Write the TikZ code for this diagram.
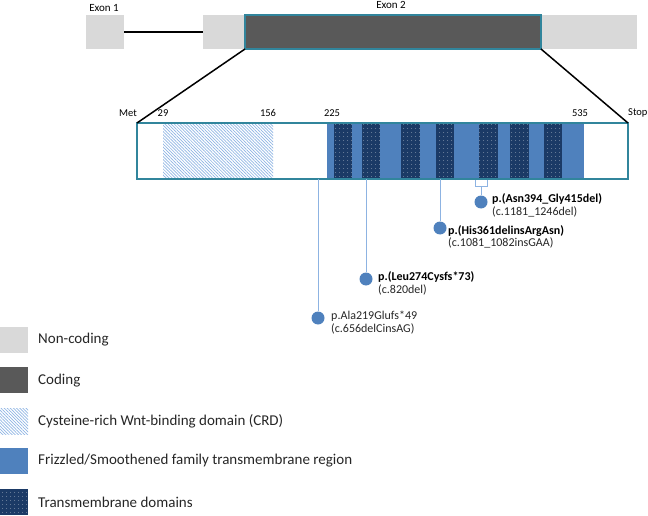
\documentclass[tikz,border=0pt]{standalone}
\usepackage{fontspec}
\setmainfont{Carlito}
\usetikzlibrary{patterns,patterns.meta}
\definecolor{noncod}{HTML}{D9D9D9}
\definecolor{codc}{HTML}{595959}
\definecolor{tealb}{HTML}{31859C}
\definecolor{fzblue}{HTML}{4F81BD}
\definecolor{navy}{HTML}{1B3A66}
\definecolor{hatchc}{HTML}{8EB4E3}
\definecolor{mlinec}{HTML}{8DB3E2}
\definecolor{txtc}{HTML}{262626}
\tikzset{
  box/.style={rectangle, inner sep=0pt, outer sep=0pt, anchor=north west},
  ncbox/.style={box, fill=noncod},
  codbox/.style={box, fill=codc, draw=tealb, line width=1.5pt},
  crdfill/.style={box, fill=white, pattern={Lines[angle=-45, distance=2.2pt, line width=0.7pt]}, pattern color=hatchc},
  fzfill/.style={box, fill=fzblue},
  tmfill/.style={box, fill=navy, postaction={pattern={Dots[distance=4pt, radius=0.45pt]}, pattern color=white!75!navy}},
  mline/.style={draw=mlinec, line width=1pt},
  mdot/.style={circle, fill=fzblue, minimum size=13pt, inner sep=0pt},
  ltxt/.style={anchor=west, text=txtc, font=\fontsize{12}{14}\selectfont},
  btxt/.style={anchor=west, text=black, font=\bfseries\fontsize{12}{14}\selectfont},
  ptxt/.style={text=black, font=\fontsize{10.5}{12}\selectfont, inner sep=0pt},
  legtxt/.style={anchor=west, text=txtc, font=\fontsize{15}{18}\selectfont, inner sep=0pt},
}
\begin{document}
\begin{tikzpicture}[x=1pt,y=-1pt]
\useasboundingbox (0,0) rectangle (648,516);
% gene structure
\node[ncbox, minimum width=38pt, minimum height=34pt] (ex1) at (86,15) {};
\node[ncbox, minimum width=42pt, minimum height=34pt] (ex2l) at (203,15) {};
\node[ncbox, minimum width=96pt, minimum height=34pt] (ex2r) at (541,15) {};
\node[codbox, minimum width=296pt, minimum height=34pt] (cod) at (245,15) {};
\draw[line width=1.5pt] (ex1.east) -- (ex2l.west);
\node[ptxt, font=\fontsize{11}{13}\selectfont] (lex1) at (104,7.5) {Exon 1};
\node[ptxt, font=\fontsize{11}{13}\selectfont] (lex2) at (391,5) {Exon 2};
% protein
\node[crdfill, minimum width=110pt, minimum height=54pt] (crd) at (163,124) {};
\node[fzfill, minimum width=257pt, minimum height=54pt] (fz) at (327,124) {};
\foreach \xa/\xb [count=\i] in {334/352, 362/380, 401/420, 436/454, 479/498, 510/529, 544/562}{
  \pgfmathsetmacro{\w}{\xb-\xa}
  \node[tmfill, minimum width=\w pt, minimum height=54pt] (tm\i) at (\xa,124) {};
}
% mutations
\node[box, anchor=north, draw=mlinec, line width=1pt, fill=white, minimum width=12pt, minimum height=7pt] (brk) at (481,179) {};
\node[mdot] (d1) at (318,318) {};
\node[mdot] (d2) at (366,279) {};
\node[mdot] (d3) at (440,228) {};
\node[mdot] (d4) at (481,202) {};
\node[box, draw=tealb, line width=1.8pt, minimum width=491pt, minimum height=56pt] (prot) at (137,123) {};
\draw[mline] (d1) -- (d1 |- prot.south);
\draw[mline] (d2) -- (d2 |- prot.south);
\draw[mline] (d3) -- (d3 |- prot.south);
\draw[mline] (d4) -- (brk.south);
\draw[line width=1.5pt] (cod.south west) -- (prot.north west);
\draw[line width=1.5pt] (cod.south east) -- (prot.north east);
\node[ptxt] (met) at (128,113) {Met};
\node[ptxt] (n29) at (163,113) {29};
\node[ptxt] (n156) at (268,113) {156};
\node[ptxt] (n225) at (332,113) {225};
\node[ptxt] (n535) at (580,113) {535};
\node[ptxt, anchor=west] (stop) at (628,113) {Stop};
% labels
\node[btxt, inner sep=0pt] (l4a) at (492,199) {p.(Asn394\_Gly415del)};
\node[ltxt, inner sep=0pt] (l4b) at (492,212) {(c.1181\_1246del)};
\node[btxt, inner sep=0pt] (l3a) at (448,231) {p.(His361delinsArgAsn)};
\node[ltxt, inner sep=0pt] (l3b) at (448,243) {(c.1081\_1082insGAA)};
\node[btxt, inner sep=0pt] (l2a) at (378,277) {p.(Leu274Cysfs*73)};
\node[ltxt, inner sep=0pt] (l2b) at (378,290) {(c.820del)};
\node[ltxt, inner sep=0pt] (l1a) at (331,316) {p.Ala219Glufs*49};
\node[ltxt, inner sep=0pt] (l1b) at (331,329) {(c.656delCinsAG)};
% legend
\node[ncbox, minimum width=28pt, minimum height=26pt] (sw1) at (0,327) {};
\node[box, fill=codc, minimum width=28pt, minimum height=26pt] (sw2) at (0,367) {};
\node[crdfill, minimum width=28pt, minimum height=26pt] (sw3) at (0,408) {};
\node[fzfill, minimum width=28pt, minimum height=26pt] (sw4) at (0,448) {};
\node[tmfill, minimum width=28pt, minimum height=26pt] (sw5) at (0,489) {};
\node[legtxt] (lg1) at (38,340) {Non-coding};
\node[legtxt] (lg2) at (38,381) {Coding};
\node[legtxt] (lg3) at (38,421) {Cysteine-rich Wnt-binding domain (CRD)};
\node[legtxt] (lg4) at (38,461) {Frizzled/Smoothened family transmembrane region};
\node[legtxt] (lg5) at (38,502) {Transmembrane domains};
\end{tikzpicture}
\end{document}
